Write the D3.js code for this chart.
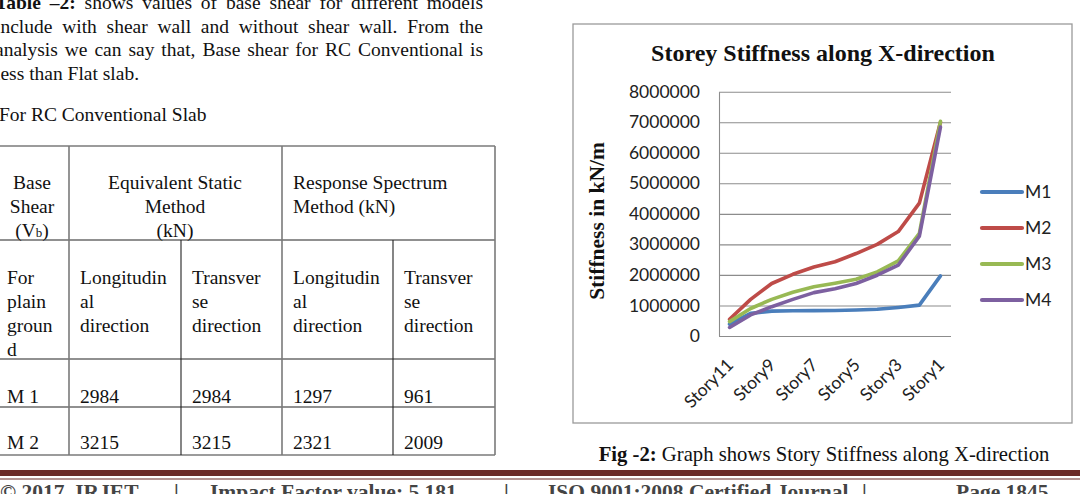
<!DOCTYPE html>
<html>
<head>
<meta charset="utf-8">
<script src="https://cdn.jsdelivr.net/npm/d3@7"></script>
<style>
  body { margin: 0; background: #fff; overflow: hidden; }
  svg { display: block; }
  .serif { font-family: 'Liberation Serif', 'Times New Roman', serif; }
  .sans { font-family: Lato, 'Liberation Sans', sans-serif; }
</style>
</head>
<body>
<svg id="page" width="1080" height="494"></svg>
<script>
// ---- data ----
const stories = ['Story11', 'Story10', 'Story9', 'Story8', 'Story7', 'Story6',
  'Story5', 'Story4', 'Story3', 'Story2', 'Story1'];
const m1 = [390000, 740000, 815000, 825000, 830000, 835000, 850000, 875000, 935000, 1010000, 1970000];
const m2 = [550000, 1200000, 1720000, 2020000, 2260000, 2430000, 2700000, 3000000, 3420000, 4350000, 7000000];
const m3 = [470000, 900000, 1200000, 1430000, 1610000, 1730000, 1860000, 2100000, 2460000, 3360000, 7030000];
const m4 = [280000, 690000, 960000, 1200000, 1420000, 1550000, 1720000, 1990000, 2320000, 3270000, 6840000];
const seriesNames = ['M1', 'M2', 'M3', 'M4'];
const seriesColors = ['#4a7ebb', '#be4b48', '#98b954', '#7d60a0'];
const yTicks = [0, 1000000, 2000000, 3000000, 4000000, 5000000, 6000000, 7000000, 8000000];
const xLabels = ['Story11', 'Story9', 'Story7', 'Story5', 'Story3', 'Story1'];

const paraText = [
  'shows values of base shear for different models',
  'include with shear wall and without shear wall. From the',
  'analysis we can say that, Base shear for RC Conventional is',
  'less than Flat slab.'
];
const tableHeadCol1 = ['Base', 'Shear'];
const tableHeadCol2 = ['Equivalent Static', 'Method', '(kN)'];
const tableHeadCol4 = ['Response Spectrum', 'Method (kN)'];
const tableRow2 = [
  ['For', 'plain', 'groun', 'd'],
  ['Longitudin', 'al', 'direction'],
  ['Transver', 'se', 'direction'],
  ['Longitudin', 'al', 'direction'],
  ['Transver', 'se', 'direction']
];
const tableRows = [
  ['M 1', '2984', '2984', '1297', '961'],
  ['M 2', '3215', '3215', '2321', '2009']
];
const footerParts = ['© 2017, IRJET', '|', 'Impact Factor value: 5.181', '|',
  'ISO 9001:2008 Certified Journal', '|', 'Page 1845'];

const svg = d3.select('#page');
svg.append('rect').attr('width', 1080).attr('height', 494).attr('fill', '#fff');

// ---- paragraph text (justified) ----
const para = svg.append('g').attr('class', 'serif').style('font-size', '19.5px').attr('fill', '#111');
paraText.forEach((line, i) => {
  const t = para.append('text').attr('x', -5).attr('y', 9 + i * 23.5);
  if (i === 0) t.append('tspan').style('font-weight', 'bold').text('Table –2: ');
  t.append('tspan').text(line);
  if (i < paraText.length - 1) {
    const natural = t.node().getComputedTextLength();
    const spaces = (t.text().match(/ /g) || []).length;
    t.style('word-spacing', ((488 - natural) / spaces) + 'px');
  }
});
para.append('text').attr('x', -1).attr('y', 121).text('For RC Conventional Slab');

// ---- table ----
const tbl = svg.append('g').attr('class', 'serif').style('font-size', '19.5px').attr('fill', '#111');
const rowY = [146, 240, 359, 407, 455];
rowY.forEach((y, i) => {
  const outer = i === 0 || i === rowY.length - 1;
  tbl.append('line').attr('x1', -10).attr('x2', 495).attr('y1', y).attr('y2', y)
    .attr('stroke', outer ? '#7a7a7a' : '#222')
    .attr('stroke-width', outer ? 1.6 : 1.1);
});
[[69, 146, 455, '#7a7a7a', 1.6], [282, 146, 455, '#7a7a7a', 1.6], [495, 146, 455, '#7a7a7a', 1.6],
 [181, 240, 455, '#222', 1.1], [393, 240, 455, '#222', 1.1]].forEach(v => {
  tbl.append('line').attr('x1', v[0]).attr('x2', v[0]).attr('y1', v[1]).attr('y2', v[2])
    .attr('stroke', v[3]).attr('stroke-width', v[4]);
});
tableHeadCol1.forEach((s, i) => {
  tbl.append('text').attr('x', 32).attr('y', 189 + i * 24).attr('text-anchor', 'middle').text(s);
});
const vb = tbl.append('text').attr('x', 32).attr('y', 237).attr('text-anchor', 'middle');
vb.append('tspan').text('(V');
vb.append('tspan').style('font-size', '13px').text('b');
vb.append('tspan').text(')');
tableHeadCol2.forEach((s, i) => {
  tbl.append('text').attr('x', 175).attr('y', 189 + i * 24).attr('text-anchor', 'middle').text(s);
});
tableHeadCol4.forEach((s, i) => {
  tbl.append('text').attr('x', 293).attr('y', 189 + i * 24).text(s);
});
const cellX = [7, 80, 192, 293, 404];
tableRow2.forEach((lines, c) => {
  lines.forEach((s, i) => {
    tbl.append('text').attr('x', cellX[c]).attr('y', 284 + i * 24).text(s);
  });
});
tableRows.forEach((row, r) => {
  row.forEach((s, c) => {
    tbl.append('text').attr('x', cellX[c]).attr('y', 403 + r * 46).text(s);
  });
});

// ---- chart ----
svg.append('rect').attr('x', 573).attr('y', 24).attr('width', 499).attr('height', 399)
  .attr('fill', '#fff').attr('stroke', '#9a9a9a').attr('stroke-width', 1.3);

const plot = { left: 719, right: 951, top: 91.7, bottom: 336 };
const x = d3.scalePoint().domain(stories).range([plot.left, plot.right]).padding(0.5);
const y = d3.scaleLinear().domain([0, 8000000]).range([plot.bottom, plot.top]);

svg.append('text').attr('class', 'serif').attr('x', 823).attr('y', 61)
  .attr('text-anchor', 'middle').style('font-size', '24px').style('font-weight', 'bold')
  .attr('fill', '#111').text('Storey Stiffness along X-direction');

svg.append('text').attr('class', 'serif')
  .attr('transform', 'translate(604,221) rotate(-90)')
  .attr('text-anchor', 'middle').style('font-size', '21.5px').style('font-weight', 'bold')
  .attr('fill', '#111').text('Stiffness in kN/m');

// gridlines
svg.append('g')
  .attr('transform', 'translate(' + plot.left + ',0)')
  .call(d3.axisLeft(y).tickValues(yTicks).tickSize(-(plot.right - plot.left)).tickFormat('').tickSizeOuter(0))
  .call(g => g.selectAll('.tick line').attr('stroke', '#8c8c8c').attr('stroke-width', 1.1))
  .call(g => g.select('.domain').attr('stroke', '#8c8c8c').attr('stroke-width', 1.1));

// y tick labels
svg.append('g')
  .attr('transform', 'translate(' + plot.left + ',0)')
  .call(d3.axisLeft(y).tickValues(yTicks).tickSize(0).tickPadding(19).tickFormat(d3.format('d')))
  .call(g => g.select('.domain').remove())
  .call(g => g.selectAll('text').attr('class', 'sans').style('font-size', '17.5px').attr('fill', '#222'));

// x labels
svg.append('g').selectAll('text').data(xLabels).join('text')
  .attr('class', 'sans')
  .attr('transform', d => 'translate(' + (x(d) + 5) + ',366) rotate(-45)')
  .attr('text-anchor', 'end')
  .style('font-size', '17.5px').attr('fill', '#222')
  .text(d => d);

// series
const series = [m1, m2, m3, m4];
const line = d3.line().x((d, i) => x(stories[i])).y(d => y(d));
svg.append('g').selectAll('path').data(series).join('path')
  .attr('d', d => line(d))
  .attr('fill', 'none')
  .attr('stroke', (d, i) => seriesColors[i])
  .attr('stroke-width', 3.6)
  .attr('stroke-linejoin', 'round')
  .attr('stroke-linecap', 'round');

// legend
const legend = svg.append('g').selectAll('g').data(seriesNames).join('g')
  .attr('transform', (d, i) => 'translate(982,' + (192 + i * 36) + ')');
legend.append('line').attr('x1', 0).attr('x2', 40)
  .attr('stroke', (d, i) => seriesColors[i]).attr('stroke-width', 4.2).attr('stroke-linecap', 'round');
legend.append('text').attr('class', 'sans').attr('x', 43).attr('dy', '0.35em')
  .style('font-size', '17.5px').attr('fill', '#222').text(d => d);

// caption
const cap = svg.append('text').attr('class', 'serif').attr('x', 824).attr('y', 461)
  .attr('text-anchor', 'middle').style('font-size', '20.7px').attr('fill', '#111');
cap.append('tspan').style('font-weight', 'bold').text('Fig -2:');
cap.append('tspan').text(' Graph shows Story Stiffness along X-direction');

// ---- footer ----
svg.append('rect').attr('x', 0).attr('y', 470).attr('width', 1080).attr('height', 6).attr('fill', '#6b2a27');
svg.append('line').attr('x1', 0).attr('x2', 1080).attr('y1', 479).attr('y2', 479)
  .attr('stroke', '#6b2a27').attr('stroke-width', 1.2);
const footX = [0, 174, 210, 504, 548, 862, 956];
svg.append('g').selectAll('text').data(footerParts).join('text')
  .attr('class', 'serif')
  .attr('x', (d, i) => footX[i]).attr('y', 499)
  .style('font-size', '21.5px').style('font-weight', 'bold').attr('fill', '#444')
  .text(d => d);
</script>
</body>
</html>
